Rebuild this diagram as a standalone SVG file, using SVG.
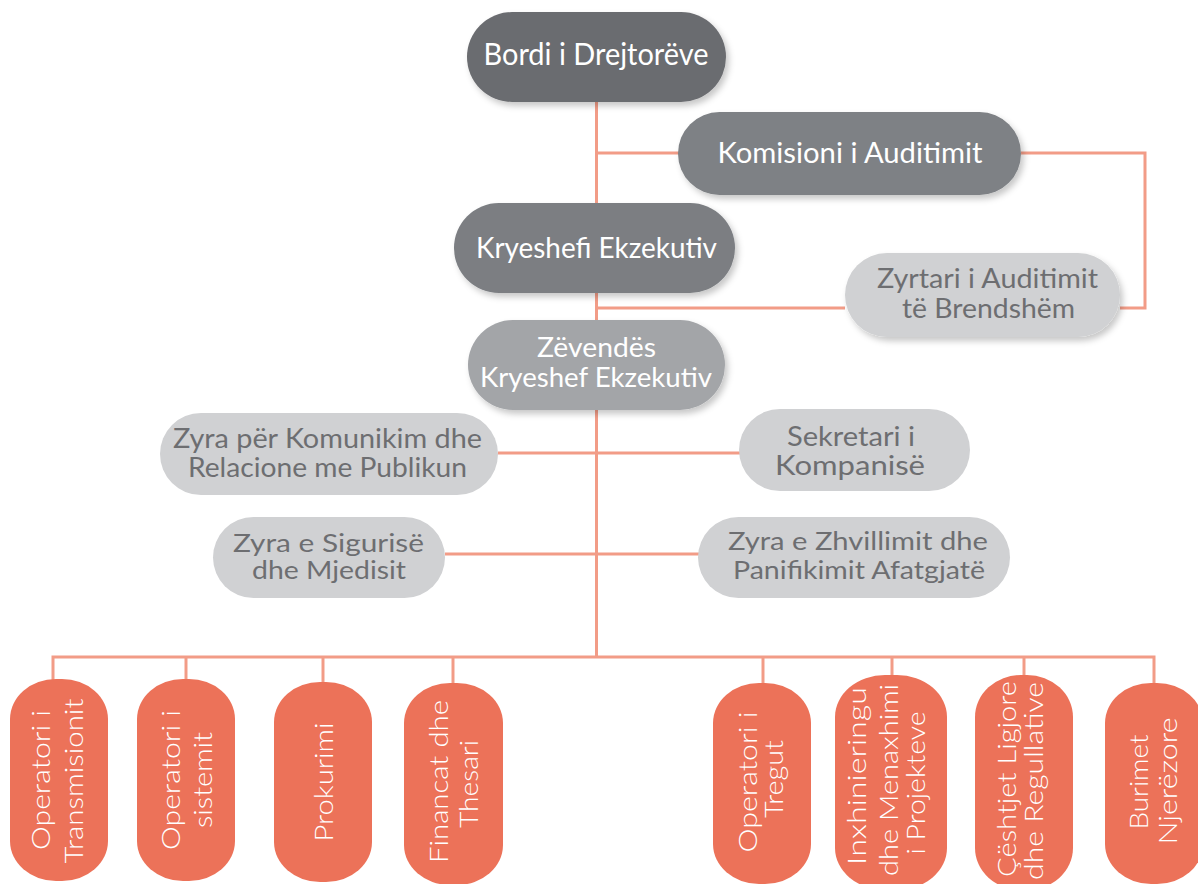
<svg xmlns="http://www.w3.org/2000/svg" width="1198" height="884" viewBox="0 0 1198 884">
<defs>
<filter id="sh" x="-10%" y="-20%" width="125%" height="150%">
<feDropShadow dx="3" dy="4" stdDeviation="3" flood-color="#000" flood-opacity="0.22"/>
</filter>
<style>
.c{fill:none;stroke:#f29c87;stroke-width:3}
.t{font-family:Lato,"Open Sans","Liberation Sans",sans-serif;font-weight:400;text-anchor:middle}
.w{fill:#ffffff}
.g{fill:#6d6e71}
.o{fill:#ec7259}
.b{font-family:Lato,"Open Sans","Liberation Sans",sans-serif;font-weight:300;font-size:26px;fill:#ffffff;text-anchor:middle}
</style>
</defs>
<rect width="1198" height="884" fill="#ffffff"/>
<g id="connectors">
<path class="c" d="M596.5 102 V657"/>
<path class="c" d="M596.5 153 H679"/>
<path class="c" d="M1021 153 H1145 V308 H1120"/>
<path class="c" d="M596.5 308 H845"/>
<path class="c" d="M498 453 H740"/>
<path class="c" d="M445 554 H700"/>
<path class="c" d="M53 681 V657 H1154 V684"/>
<path class="c" d="M186 657 V681"/>
<path class="c" d="M323 657 V684"/>
<path class="c" d="M453 657 V685"/>
<path class="c" d="M763 657 V685"/>
<path class="c" d="M892 657 V677"/>
<path class="c" d="M1024 657 V677"/>
</g>
<g id="bordi">
<rect x="467" y="12" width="259" height="90" rx="45" fill="#6b6c70" filter="url(#sh)"/>
<text class="t w" x="596" y="65" font-size="30" textLength="225" lengthAdjust="spacingAndGlyphs">Bordi i Drejtorëve</text>
</g>
<g id="komisioni">
<rect x="678" y="112" width="343" height="83" rx="41.5" fill="#7e8185" filter="url(#sh)"/>
<text class="t w" x="850" y="163" font-size="29" textLength="265" lengthAdjust="spacingAndGlyphs">Komisioni i Auditimit</text>
</g>
<g id="kryeshefi">
<rect x="454" y="203" width="281" height="90" rx="45" fill="#7b7e82" filter="url(#sh)"/>
<text class="t w" x="596.5" y="258" font-size="29" textLength="241" lengthAdjust="spacingAndGlyphs">Kryeshefi Ekzekutiv</text>
</g>
<g id="zyrtari">
<rect x="845" y="253" width="275" height="84" rx="42" fill="#d0d1d3" filter="url(#sh)"/>
<text class="t g" x="987.5" y="288" font-size="26" textLength="221" lengthAdjust="spacingAndGlyphs">Zyrtari i Auditimit</text>
<text class="t g" x="988.5" y="318" font-size="26" textLength="173" lengthAdjust="spacingAndGlyphs">të Brendshëm</text>
</g>
<g id="zevendes">
<rect x="468" y="320" width="257" height="90" rx="45" fill="#a3a5a8" filter="url(#sh)"/>
<text class="t w" x="596.5" y="357" font-size="27" textLength="119" lengthAdjust="spacingAndGlyphs">Zëvendës</text>
<text class="t w" x="596" y="387" font-size="27" textLength="232" lengthAdjust="spacingAndGlyphs">Kryeshef Ekzekutiv</text>
</g>
<g id="zyra-komunikim">
<rect x="160" y="413" width="338" height="82" rx="41" fill="#d0d1d3"/>
<text class="t g" x="327.5" y="448" font-size="26" textLength="309" lengthAdjust="spacingAndGlyphs">Zyra për Komunikim dhe</text>
<text class="t g" x="327.5" y="477" font-size="26" textLength="279" lengthAdjust="spacingAndGlyphs">Relacione me Publikun</text>
</g>
<g id="sekretari">
<rect x="739" y="409" width="231" height="82" rx="41" fill="#d0d1d3"/>
<text class="t g" x="851" y="446" font-size="26" textLength="128" lengthAdjust="spacingAndGlyphs">Sekretari i</text>
<text class="t g" x="850" y="475" font-size="26" textLength="150" lengthAdjust="spacingAndGlyphs">Kompanisë</text>
</g>
<g id="zyra-siguri">
<rect x="213" y="517" width="232" height="81" rx="40.5" fill="#d0d1d3"/>
<text class="t g" x="328.5" y="552" font-size="25" textLength="191" lengthAdjust="spacingAndGlyphs">Zyra e Sigurisë</text>
<text class="t g" x="329" y="579" font-size="25" textLength="154" lengthAdjust="spacingAndGlyphs">dhe Mjedisit</text>
</g>
<g id="zyra-zhvillim">
<rect x="698" y="517" width="312" height="81" rx="40.5" fill="#d0d1d3"/>
<text class="t g" x="858" y="550" font-size="25" textLength="260" lengthAdjust="spacingAndGlyphs">Zyra e Zhvillimit dhe</text>
<text class="t g" x="859" y="579" font-size="25" textLength="252" lengthAdjust="spacingAndGlyphs">Panifikimit Afatgjatë</text>
</g>
<g id="op-transmisionit">
<rect class="o" x="10" y="679" width="98" height="202" rx="46" ry="40"/>
<g transform="translate(59 780) rotate(-90)">
<text class="b" x="0" y="-9" textLength="140" lengthAdjust="spacingAndGlyphs">Operatori i</text>
<text class="b" x="-1" y="24" textLength="165" lengthAdjust="spacingAndGlyphs">Transmisionit</text>
</g>
</g>
<g id="op-sistemit">
<rect class="o" x="137" y="679" width="98" height="202" rx="46" ry="40"/>
<g transform="translate(186 780) rotate(-90)">
<text class="b" x="0" y="-6" textLength="140" lengthAdjust="spacingAndGlyphs">Operatori i</text>
<text class="b" x="0" y="26" textLength="96" lengthAdjust="spacingAndGlyphs">sistemit</text>
</g>
</g>
<g id="prokurimi">
<rect class="o" x="274" y="682" width="98" height="200" rx="46" ry="40"/>
<g transform="translate(323 782) rotate(-90)">
<text class="b" x="0" y="10" textLength="119" lengthAdjust="spacingAndGlyphs">Prokurimi</text>
</g>
</g>
<g id="financat">
<rect class="o" x="404" y="683" width="99" height="202" rx="46" ry="40"/>
<g transform="translate(453 782) rotate(-90)">
<text class="b" x="0.5" y="-5" textLength="163" lengthAdjust="spacingAndGlyphs">Financat dhe</text>
<text class="b" x="-2" y="25" textLength="88" lengthAdjust="spacingAndGlyphs">Thesari</text>
</g>
</g>
<g id="op-tregut">
<rect class="o" x="713" y="683" width="98" height="201" rx="46" ry="40"/>
<g transform="translate(762 782) rotate(-90)">
<text class="b" x="0" y="-5" textLength="141" lengthAdjust="spacingAndGlyphs">Operatori i</text>
<text class="b" x="3" y="21" textLength="78" lengthAdjust="spacingAndGlyphs">Tregut</text>
</g>
</g>
<g id="inxhinieringu">
<rect class="o" x="835" y="675" width="112" height="215" rx="50" ry="42"/>
<g transform="translate(891 780) rotate(-90)">
<text class="b" x="4" y="-25" textLength="178" lengthAdjust="spacingAndGlyphs">Inxhinieringu</text>
<text class="b" x="0" y="7" textLength="192" lengthAdjust="spacingAndGlyphs">dhe Menaxhimi</text>
<text class="b" x="-3" y="34" textLength="143" lengthAdjust="spacingAndGlyphs">i Projekteve</text>
</g>
</g>
<g id="ceshtjet">
<rect class="o" x="975" y="675" width="98" height="215" rx="46" ry="42"/>
<g transform="translate(1024 782) rotate(-90)">
<text class="b" x="3" y="-8" textLength="196" lengthAdjust="spacingAndGlyphs">Çështjet Ligjore</text>
<text class="b" x="1" y="19" textLength="198" lengthAdjust="spacingAndGlyphs">dhe Regullative</text>
</g>
</g>
<g id="burimet">
<rect class="o" x="1105" y="683" width="98" height="201" rx="46" ry="40"/>
<g transform="translate(1154 782) rotate(-90)">
<text class="b" x="0" y="-6" textLength="95" lengthAdjust="spacingAndGlyphs">Burimet</text>
<text class="b" x="1" y="23" textLength="127" lengthAdjust="spacingAndGlyphs">Njerëzore</text>
</g>
</g>
</svg>
